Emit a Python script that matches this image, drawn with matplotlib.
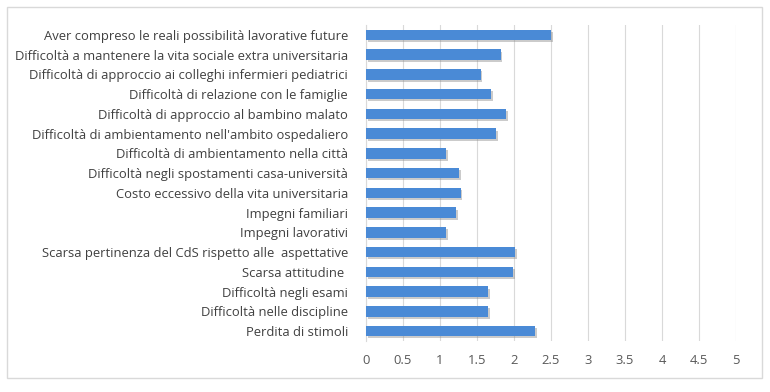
import matplotlib
matplotlib.use("Agg")
import matplotlib.pyplot as plt
import matplotlib.patheffects as pe
from matplotlib.patches import Rectangle

categories = [
    "Aver compreso le reali possibilità lavorative future",
    "Difficoltà a mantenere la vita sociale extra universitaria",
    "Difficoltà di approccio ai colleghi infermieri pediatrici",
    "Difficoltà di relazione con le famiglie",
    "Difficoltà di approccio al bambino malato",
    "Difficoltà di ambientamento nell'ambito ospedaliero",
    "Difficoltà di ambientamento nella città",
    "Difficoltà negli spostamenti casa-università",
    "Costo eccessivo della vita universitaria",
    "Impegni familiari",
    "Impegni lavorativi",
    "Scarsa pertinenza del CdS rispetto alle  aspettative",
    "Scarsa attitudine ",
    "Difficoltà negli esami",
    "Difficoltà nelle discipline",
    "Perdita di stimoli",
]
values = [2.5, 1.82, 1.55, 1.69, 1.89, 1.76, 1.08, 1.26, 1.28, 1.22, 1.08, 2.02, 1.99, 1.65, 1.65, 2.29]
xticks = [0, 0.5, 1, 1.5, 2, 2.5, 3, 3.5, 4, 4.5, 5]
xticklabels = ["0", "0.5", "1", "1.5", "2", "2.5", "3", "3.5", "4", "4.5", "5"]

plt.rcParams['font.family'] = ['Open Sans', 'DejaVu Sans']

W, H = 770, 392
fig = plt.figure(figsize=(W / 100, H / 100), dpi=100)
fig.patches.append(Rectangle((7 / W, 1 - 378 / H), (762 - 7) / W, (378 - 7) / H,
                             transform=fig.transFigure, fill=False,
                             edgecolor="#d9d9d9", linewidth=1))

ax = fig.add_axes([366 / W, 1 - 341 / H, 370 / W, (341 - 25) / H])
ypos = list(range(len(categories)))
bars = ax.barh(ypos, values, height=0.52, color="#4a8ad6", zorder=3)
for b in bars:
    b.set_path_effects([pe.SimplePatchShadow(offset=(1.2, -1.5), shadow_rgbFace="#8c8c8c", alpha=0.45),
                        pe.Normal()])

ax.set_xlim(0, 5)
ax.set_ylim(len(categories) - 0.5, -0.5)
ax.set_yticks(ypos)
ax.set_yticklabels(categories, fontsize=9.4, color="#404040")
ax.set_xticks(xticks)
ax.set_xticklabels(xticklabels, fontsize=9.4, color="#595959")
ax.tick_params(axis="both", length=0)
ax.tick_params(axis="y", pad=13)
ax.tick_params(axis="x", pad=9)
ax.grid(axis="x", color="#d9d9d9", linewidth=0.8, zorder=0)
for s in ["top", "right", "bottom"]:
    ax.spines[s].set_visible(False)
ax.spines["left"].set_color("#d9d9d9")
ax.spines["left"].set_linewidth(0.8)

fig.savefig("out.png", dpi=100)
